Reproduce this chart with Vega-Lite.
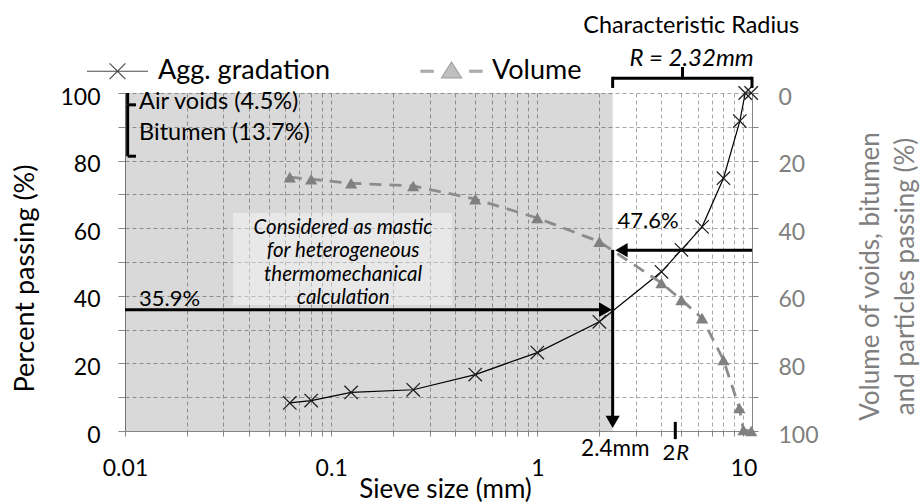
{
  "$schema": "https://vega.github.io/schema/vega-lite/v6.json",
  "width": 627,
  "height": 338,
  "autosize": {"type": "none"},
  "padding": {"left": 125, "top": 93, "right": 168, "bottom": 73},
  "background": "white",
  "config": {
    "view": {"stroke": null},
    "font": "Lato",
    "text": {"font": "Lato", "color": "#000"},
    "axis": {"labelFont": "Lato", "titleFont": "Lato", "titleFontWeight": "normal"},
    "legend": {"labelFont": "Lato"}
  },
  "datasets": {
    "agg": [
      {"x": 0.063, "y": 8.3}, {"x": 0.08, "y": 9.0}, {"x": 0.125, "y": 11.4},
      {"x": 0.25, "y": 12.2}, {"x": 0.5, "y": 16.7}, {"x": 1, "y": 23.2},
      {"x": 2, "y": 32.3}, {"x": 4, "y": 47.1}, {"x": 5, "y": 53.6},
      {"x": 6.3, "y": 60.4}, {"x": 8, "y": 74.8}, {"x": 9.6, "y": 91.7},
      {"x": 10.2, "y": 100}, {"x": 10.9, "y": 100}
    ],
    "vol": [
      {"x": 0.063, "y": 24.9}, {"x": 0.08, "y": 25.5}, {"x": 0.125, "y": 26.7},
      {"x": 0.25, "y": 27.5}, {"x": 0.5, "y": 31.4}, {"x": 1, "y": 37.0},
      {"x": 2, "y": 44.0}, {"x": 4, "y": 56.2}, {"x": 5, "y": 61.2},
      {"x": 6.3, "y": 66.6}, {"x": 8, "y": 79.0}, {"x": 9.55, "y": 93.2},
      {"x": 10.0, "y": 99.7}, {"x": 10.9, "y": 100}
    ]
  },
  "encoding": {
    "x": {
      "field": "x", "type": "quantitative",
      "scale": {"type": "log", "domain": [0.01, 11], "nice": false},
      "axis": {
        "values": [0.01, 0.02, 0.03, 0.04, 0.05, 0.06, 0.07, 0.08, 0.09, 0.1, 0.2, 0.3, 0.4, 0.5, 0.6, 0.7, 0.8, 0.9, 1, 2, 3, 4, 5, 6, 7, 8, 9, 10],
        "labelExpr": "indexof([0.01, 0.1, 1, 10], datum.value) >= 0 ? format(datum.value, '~g') : ''",
        "labelFlush": false, "labelOverlap": false,
        "labelFontSize": 23, "labelColor": "#000", "labelPadding": 21,
        "tickSize": 5, "tickColor": "#868686", "domainColor": "#868686",
        "grid": true, "gridColor": "#a6a6a6", "gridDash": [4, 3], "gridWidth": 1,
        "title": "Sieve size (mm)", "titleFontSize": 26, "titleColor": "#000",
        "titleX": 320, "titleY": 58, "titleBaseline": "middle"
      }
    }
  },
  "layer": [
    {
      "encoding": {
        "y": {
          "field": "y", "type": "quantitative",
          "scale": {"domain": [0, 100], "nice": false},
          "axis": {
            "orient": "left",
            "values": [0, 10, 20, 30, 40, 50, 60, 70, 80, 90, 100],
            "labelExpr": "datum.value % 20 === 0 ? datum.label : ''",
            "labelFontSize": 23, "labelColor": "#000", "labelPadding": 18, "labelOffset": 4,
            "tickSize": 7, "tickColor": "#868686", "domainColor": "#868686",
            "grid": true, "gridColor": "#a6a6a6", "gridDash": [4, 3], "gridWidth": 1,
            "title": "Percent passing (%)", "titleFontSize": 27, "titleColor": "#000",
            "titleAngle": 270, "titleX": -100, "titleY": 185, "titleBaseline": "middle", "titleAlign": "center"
          }
        }
      },
      "layer": [
        {
          "data": {"values": [{"x": 0.01, "x2": 2.32, "y": 0, "y2": 100}]},
          "mark": {"type": "rect", "fill": "#000", "opacity": 0.15},
          "encoding": {"x2": {"field": "x2"}, "y2": {"field": "y2"}}
        },
        {
          "data": {"values": [{"x": 0.0334, "x2": 0.386, "y": 37.3, "y2": 64.5}]},
          "mark": {"type": "rect", "fill": "#fff", "opacity": 0.4},
          "encoding": {"x2": {"field": "x2"}, "y2": {"field": "y2"}}
        },
        {
          "data": {"name": "agg"},
          "mark": {"type": "line", "color": "#000", "strokeWidth": 1.2},
          "encoding": {}
        },
        {
          "data": {"name": "agg"},
          "mark": {"type": "point", "shape": "M-1,-1L1,1M-1,1L1,-1", "filled": false, "stroke": "#1a1a1a", "strokeWidth": 1.2, "size": 180, "opacity": 1},
          "encoding": {}
        },
        {
          "data": {"values": [
            {"x": 0.01, "y": 35.9, "x2": 2.15, "y2": 35.9},
            {"x": 2.56, "y": 53.5, "x2": 11, "y2": 53.5},
            {"x": 2.32, "y": 53.6, "x2": 2.32, "y2": 3},
            {"x": 4.67, "y": 2.7, "x2": 4.67, "y2": -2.4},
            {"x": 2.32, "y": 104.4, "x2": 11, "y2": 104.4},
            {"x": 2.32, "y": 104.8, "x2": 2.32, "y2": 101.5},
            {"x": 11, "y": 104.8, "x2": 11, "y2": 101.5},
            {"x": 5.06, "y": 104.4, "x2": 5.06, "y2": 107.7},
            {"x": 0.0103, "y": 81.3, "x2": 0.0103, "y2": 96.5},
            {"x": 0.0103, "y": 96.5, "x2": 0.0113, "y2": 96.5},
            {"x": 0.0103, "y": 81.3, "x2": 0.0113, "y2": 81.3},
            {"x": 0.0103, "y": 96.5, "x2": 0.0103, "y2": 100}
          ]},
          "mark": {"type": "rule", "color": "#000", "strokeWidth": 3},
          "encoding": {"x2": {"field": "x2"}, "y2": {"field": "y2"}}
        },
        {
          "data": {"values": [{"x": 2.14, "y": 35.9}]},
          "mark": {"type": "point", "shape": "triangle-right", "filled": true, "color": "#000", "size": 220, "opacity": 1},
          "encoding": {}
        },
        {
          "data": {"values": [{"x": 2.56, "y": 53.5}]},
          "mark": {"type": "point", "shape": "triangle-left", "filled": true, "color": "#000", "size": 200, "opacity": 1},
          "encoding": {}
        },
        {
          "data": {"values": [{"x": 2.32, "y": 2.7}]},
          "mark": {"type": "point", "shape": "triangle-down", "filled": true, "color": "#000", "size": 200, "opacity": 1},
          "encoding": {}
        },
        {
          "data": {"values": [
            {"x": 0.0117, "y": 97.3, "label": "Air voids (4.5%)"},
            {"x": 0.0117, "y": 88.3, "label": "Bitumen (13.7%)"}
          ]},
          "mark": {"type": "text", "align": "left", "baseline": "middle", "fontSize": 23.5},
          "encoding": {"text": {"field": "label"}}
        },
        {
          "data": {"values": [
            {"x": 0.0117, "y": 39.2, "label": "35.9%"},
            {"x": 2.45, "y": 62.0, "label": "47.6%"}
          ]},
          "mark": {"type": "text", "align": "left", "baseline": "middle", "fontSize": 22},
          "encoding": {"text": {"field": "label"}}
        },
        {
          "data": {"values": [{"x": 2.39, "y": -5.4, "label": "2.4mm"}]},
          "mark": {"type": "text", "align": "center", "baseline": "middle", "fontSize": 22.5},
          "encoding": {"text": {"field": "label"}}
        },
        {
          "data": {"values": [{"x": 4.67, "y": -6.6, "label": "2"}]},
          "mark": {"type": "text", "align": "right", "baseline": "middle", "fontSize": 22},
          "encoding": {"text": {"field": "label"}}
        },
        {
          "data": {"values": [{"x": 4.67, "y": -6.6, "label": "R"}]},
          "mark": {"type": "text", "align": "left", "baseline": "middle", "fontSize": 22, "fontStyle": "italic", "dx": 1},
          "encoding": {"text": {"field": "label"}}
        },
        {
          "data": {"values": [{"x": 5.58, "y": 119.7, "label": "Characteristic Radius"}]},
          "mark": {"type": "text", "align": "center", "baseline": "middle", "fontSize": 23.4},
          "encoding": {"text": {"field": "label"}}
        },
        {
          "data": {"values": [{"x": 5.6, "y": 110.2, "label": "R = 2.32mm"}]},
          "mark": {"type": "text", "align": "center", "baseline": "middle", "fontSize": 24, "fontStyle": "italic"},
          "encoding": {"text": {"field": "label"}}
        },
        {
          "data": {"values": [{"x": 0.1143, "y": 60.2, "label": "Considered as mastic\nfor heterogeneous\nthermomechanical\ncalculation"}]},
          "mark": {"type": "text", "align": "center", "baseline": "middle", "fontSize": 20.5, "fontStyle": "italic", "lineBreak": "\n", "lineHeight": 23.5},
          "encoding": {"text": {"field": "label"}}
        },
        {
          "data": {"values": [{"series": "Agg. gradation"}, {"series": "Volume"}]},
          "transform": [{"filter": "false"}],
          "mark": {"type": "point", "strokeWidth": 1.2},
          "encoding": {
            "shape": {
              "field": "series", "type": "nominal",
              "scale": {
                "domain": ["Agg. gradation", "Volume"],
                "range": ["M-1,0L1,0M-0.26,-0.26L0.26,0.26M-0.26,0.26L0.26,-0.26", "M-1,-0.03L-0.6,-0.03L-0.6,0.03L-1,0.03ZM0.6,-0.03L1,-0.03L1,0.03L0.6,0.03ZM0,-0.3L0.33,0.22L-0.33,0.22Z"]
              },
              "legend": {
                "orient": "none", "legendX": -39, "legendY": -53.5,
                "direction": "horizontal", "columns": 2, "title": null,
                "padding": 0, "symbolSize": 3721, "symbolStrokeWidth": 1.2, "labelFontSize": 27, "labelColor": "#000",
                "labelOffset": 9, "columnPadding": 87, "labelLimit": 400
              }
            },
            "fill": {
              "field": "series", "type": "nominal",
              "scale": {"domain": ["Agg. gradation", "Volume"], "range": ["transparent", "#7f7f7f"]},
              "legend": {
                "orient": "none", "legendX": -39, "legendY": -53.5,
                "direction": "horizontal", "columns": 2, "title": null,
                "padding": 0, "symbolSize": 3721, "symbolStrokeWidth": 1.2, "labelFontSize": 27, "labelColor": "#000",
                "labelOffset": 9, "columnPadding": 87, "labelLimit": 400
              }
            },
            "stroke": {
              "field": "series", "type": "nominal",
              "scale": {"domain": ["Agg. gradation", "Volume"], "range": ["#000", "#7f7f7f"]},
              "legend": {
                "orient": "none", "legendX": -39, "legendY": -53.5,
                "direction": "horizontal", "columns": 2, "title": null,
                "padding": 0, "symbolSize": 3721, "symbolStrokeWidth": 1.2, "labelFontSize": 27, "labelColor": "#000",
                "labelOffset": 9, "columnPadding": 87, "labelLimit": 400
              }
            }
          }
        }
      ]
    },
    {
      "encoding": {
        "y": {
          "field": "y", "type": "quantitative",
          "scale": {"domain": [0, 100], "nice": false, "reverse": true},
          "axis": {
            "orient": "right",
            "values": [0, 10, 20, 30, 40, 50, 60, 70, 80, 90, 100],
            "labelExpr": "datum.value % 20 === 0 ? datum.label : ''",
            "labelFontSize": 23, "labelColor": "#7f7f7f", "labelPadding": 20, "labelOffset": 4,
            "tickSize": 6, "tickColor": "#868686", "domainColor": "#868686",
            "grid": false,
            "title": ["Volume of voids, bitumen", "and particles passing (%)"],
            "titleFontSize": 26, "titleColor": "#7f7f7f", "titleLineHeight": 35,
            "titleAngle": 270, "titleX": 118, "titleY": 183, "titleBaseline": "middle", "titleAlign": "center"
          }
        }
      },
      "layer": [
        {
          "data": {"name": "vol"},
          "mark": {"type": "line", "color": "#8c8c8c", "strokeWidth": 2.8, "strokeDash": [12, 8]},
          "encoding": {}
        },
        {
          "data": {"name": "vol"},
          "mark": {"type": "point", "shape": "triangle-up", "filled": true, "color": "#808080", "size": 150, "opacity": 1},
          "encoding": {}
        }
      ]
    }
  ],
  "resolve": {"scale": {"y": "independent"}}
}
